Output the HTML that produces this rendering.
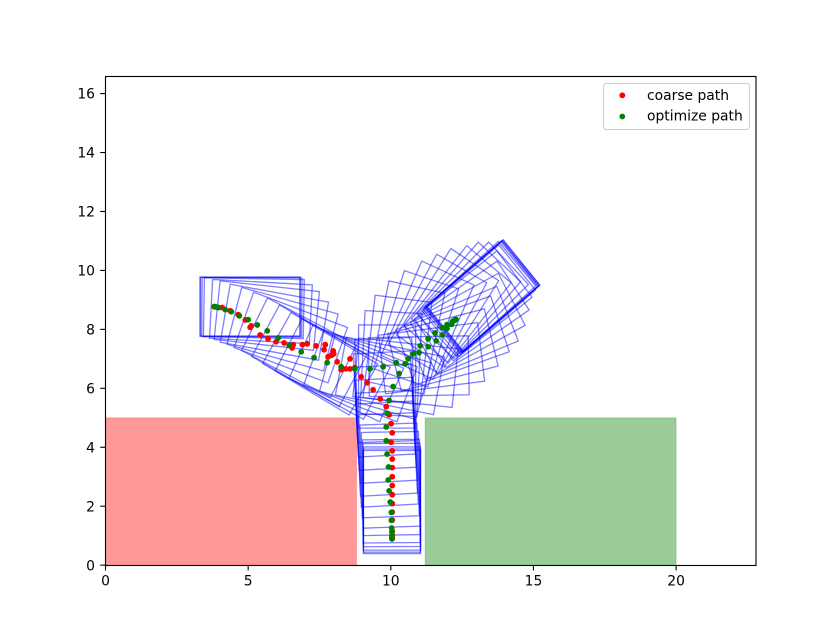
<!DOCTYPE html>
<html>
<head>
<meta charset="utf-8">
<title>Path chart</title>
<style>
html,body{margin:0;padding:0;background:#fff;}
svg{display:block;font-family:"DejaVu Sans","Liberation Sans",sans-serif;}
</style>
</head>
<body>
<svg id="chart" xmlns="http://www.w3.org/2000/svg" width="840" height="635" viewBox="0 0 840 635">
<rect x="0" y="0" width="840" height="635" fill="#ffffff"/>
<defs><clipPath id="plot-clip"><rect x="105" y="76" width="651" height="489.2"/></clipPath></defs>
<g id="plot" clip-path="url(#plot-clip)"></g>
<g id="axes"></g>
<g>
<rect x="603.5" y="83.5" width="146" height="46" rx="3" ry="3" fill="#ffffff" fill-opacity="0.8" stroke="#cccccc" stroke-width="1"/>
<circle cx="622.3" cy="95.3" r="2.9" fill="#ff0000"/>
<text x="647" y="100" font-size="13.89" fill="#000000">coarse path</text>
<circle cx="622.3" cy="116.5" r="2.9" fill="#008000"/>
<text x="647" y="120.5" font-size="13.89" fill="#000000">optimize path</text>
</g>
</svg>
<script>
var xLimits = [0, 22.8];
var yLimits = [0, 16.59];
var xTickValues = [0, 5, 10, 15, 20];
var yTickValues = [0, 2, 4, 6, 8, 10, 12, 14, 16];
var obstacleLeft = [0, 8.8, 5];
var obstacleRight = [11.2, 20, 5];
var coarseX = [10.05,10.05,10.05,10.05,10.05,10.05,10.05,10.05,10.05,10.05,10.05,10.05,10.01,10.05,10.01,9.94,9.84,9.63,9.38,9.17,8.96,8.74,8.57,8.42,8.26,8.12,8.57,7.98,8.0,7.92,7.8,7.7,7.66,7.38,7.07,6.9,6.58,6.54,6.26,5.98,5.7,5.42,5.11,5.07,4.9,4.65,4.37,4.09,3.95,3.81];
var coarseY = [0.9,1.01,1.15,1.53,1.8,2.09,2.39,2.7,3.0,3.31,3.6,3.88,4.17,4.49,4.8,5.1,5.38,5.64,5.95,6.19,6.39,6.7,6.66,6.66,6.63,6.9,7.0,7.27,7.17,7.12,7.07,7.48,7.31,7.44,7.51,7.48,7.48,7.37,7.54,7.58,7.68,7.81,8.12,8.07,8.32,8.5,8.63,8.74,8.74,8.77];
var optimizeX = [10.04,10.04,10.04,10.04,10.03,10.02,10.02,9.98,9.94,9.91,9.92,9.87,9.84,9.84,9.87,9.94,10.08,10.29,10.5,10.78,11.03,11.31,11.55,11.8,11.97,12.16,12.2,12.24,12.28,12.28,12.24,12.13,11.97,11.8,11.59,11.31,10.99,10.61,10.19,9.73,9.27,8.74,8.26,7.77,7.31,6.86,6.44,6.05,5.67,5.32,5.0,4.69,4.41,4.2,3.95,3.88,3.83,3.81];
var optimizeY = [0.89,0.94,1.01,1.13,1.26,1.52,1.79,2.14,2.52,2.89,3.33,3.77,4.22,4.69,5.15,5.59,6.06,6.5,6.83,7.17,7.44,7.68,7.88,8.06,8.16,8.26,8.29,8.31,8.34,8.34,8.31,8.17,8.03,7.81,7.61,7.41,7.21,7.0,6.87,6.73,6.66,6.66,6.73,6.87,7.04,7.24,7.46,7.71,7.95,8.15,8.33,8.46,8.6,8.67,8.74,8.76,8.77,8.77];
var optimizeHeading = [90,90,90,90.3,90.5,91,92,92,93,93,93,93,93,92,90,87,83,78,72,66,61,57,51,48,44,41,40,40,40,40,40,40,38,34,28,22,19,14,7,1,-6,-11,-16,-21,-25,-28,-30,-29,-27,-20,-15,-10,-6,-3,-1,-0.4,0,0];

var SVG_NS = "http://www.w3.org/2000/svg";
var plotLeft = 105.5, plotRight = 756, plotBottom = 565.15, plotTop = 76.2;
function xScale(v) { return plotLeft + (v - xLimits[0]) / (xLimits[1] - xLimits[0]) * (plotRight - plotLeft); }
function yScale(v) { return plotBottom - (v - yLimits[0]) / (yLimits[1] - yLimits[0]) * (plotBottom - plotTop); }
function make(tag, attrs, parent) {
  var el = document.createElementNS(SVG_NS, tag);
  for (var k in attrs) { el.setAttribute(k, attrs[k]); }
  parent.appendChild(el);
  return el;
}
var plot = document.getElementById("plot");
var axes = document.getElementById("axes");

var leftPatch = make("rect", {x: xScale(obstacleLeft[0]), y: yScale(obstacleLeft[2]), width: xScale(obstacleLeft[1]) - xScale(obstacleLeft[0]), height: yScale(0) - yScale(obstacleLeft[2]), fill: "#ff0000", "fill-opacity": 0.4, stroke: "#ff0000", "stroke-opacity": 0.2, "stroke-width": 1}, plot);


var rightPatch = make("rect", {x: xScale(obstacleRight[0]), y: yScale(obstacleRight[2]), width: xScale(obstacleRight[1]) - xScale(obstacleRight[0]), height: yScale(0) - yScale(obstacleRight[2]), fill: "#008000", "fill-opacity": 0.4, stroke: "#008000", "stroke-opacity": 0.2, "stroke-width": 1}, plot);



var carLength = 3.5, carWidth = 2, rearOverhang = 0.5;
optimizeX.forEach(function (px, i) {
  var t = optimizeHeading[i] * Math.PI / 180, c = Math.cos(t), s = Math.sin(t);
  var corners = [[-rearOverhang, carWidth / 2], [carLength - rearOverhang, carWidth / 2], [carLength - rearOverhang, -carWidth / 2], [-rearOverhang, -carWidth / 2]];
  var pts = corners.map(function (q) {
    return xScale(px + q[0] * c - q[1] * s).toFixed(2) + "," + yScale(optimizeY[i] + q[0] * s + q[1] * c).toFixed(2);
  }).join(" ");
  var box = make("polygon", {points: pts, fill: "none", stroke: "#0000ff", "stroke-opacity": 0.5, "stroke-width": 1.3}, plot);
  
  
});
coarseX.forEach(function (v, i) {
  var dot = make("circle", {cx: xScale(v), cy: yScale(coarseY[i]), r: 2.9, fill: "#ff0000"}, plot);
  
  
});
optimizeX.forEach(function (v, i) {
  var dot = make("circle", {cx: xScale(v), cy: yScale(optimizeY[i]), r: 2.9, fill: "#008000"}, plot);
  
  
});

var frame = make("rect", {x: 105.5, y: 76.5, width: 650.5, height: 489, fill: "none", stroke: "#000000", "stroke-width": 1.11}, axes);


xTickValues.forEach(function (v) {
  var px = xScale(v);
  var tick = make("line", {x1: px, x2: px, y1: 565.5, y2: 570.4, stroke: "#000000", "stroke-width": 1.11}, axes);
  
  
  var label = make("text", {x: px, y: 585.4, "text-anchor": "middle", "font-size": 13.89, fill: "#000000"}, axes);
  
  
  label.textContent = String(v);
});
yTickValues.forEach(function (v) {
  var py = yScale(v);
  var tick = make("line", {x1: 100.2, x2: 105.5, y1: py, y2: py, stroke: "#000000", "stroke-width": 1.11}, axes);
  
  
  var label = make("text", {x: 95, y: py + 5.1, "text-anchor": "end", "font-size": 13.89, fill: "#000000"}, axes);
  
  
  label.textContent = String(v);
});
</script>
</body>
</html>
